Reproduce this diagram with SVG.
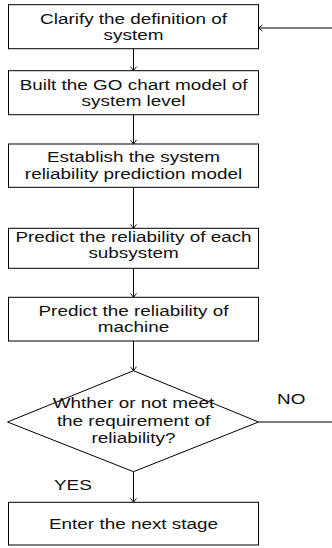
<svg xmlns="http://www.w3.org/2000/svg" width="332" height="548" viewBox="0 0 332 548">
<defs>
<style>
.box{fill:#fff;stroke:#000;stroke-width:1}
.ln{fill:none;stroke:#000;stroke-width:1}
.t{font-family:"Liberation Sans",Arial,sans-serif;font-size:15px;fill:#111;text-anchor:middle}
.lb{font-family:"Liberation Sans",Arial,sans-serif;font-size:15px;fill:#111}
</style>
<marker id="arr" viewBox="0 0 4 6" refX="4" refY="3" markerWidth="4" markerHeight="6" orient="auto" markerUnits="userSpaceOnUse" overflow="visible">
<path d="M0,0 L4,3 L0,6" fill="none" stroke="#000" stroke-width="0.9"/>
</marker>
</defs>
<rect width="332" height="548" fill="#fff"/>
<g id="connectors">
<line class="ln" x1="133.5" y1="48.7" x2="133.5" y2="70.7" marker-end="url(#arr)"/>
<line class="ln" x1="133.5" y1="114.7" x2="133.5" y2="144" marker-end="url(#arr)"/>
<line class="ln" x1="133.5" y1="187.3" x2="133.5" y2="228.3" marker-end="url(#arr)"/>
<line class="ln" x1="133.5" y1="268.3" x2="133.5" y2="297.3" marker-end="url(#arr)"/>
<line class="ln" x1="133.5" y1="341" x2="133.5" y2="370.7" marker-end="url(#arr)"/>
<line class="ln" x1="133.5" y1="471.7" x2="133.5" y2="502.3" marker-end="url(#arr)"/>
<line class="ln" x1="258.5" y1="422" x2="332" y2="422"/>
<line class="ln" x1="332" y1="28" x2="258.5" y2="28" marker-end="url(#arr)"/>
<text class="lb" transform="matrix(1.26 0 0 1 277 403.5)">NO</text>
<text class="lb" transform="matrix(1.26 0 0 1 54 489.5)">YES</text>
</g>
<g id="n1">
<rect class="box" x="8.5" y="4.7" width="250" height="44"/>
<text class="t" transform="matrix(1.26 0 0 1 133.5 24)">Clarify the definition of</text>
<text class="t" transform="matrix(1.26 0 0 1 133.5 40)">system</text>
</g>
<g id="n2">
<rect class="box" x="8.5" y="70.7" width="250" height="44"/>
<text class="t" transform="matrix(1.26 0 0 1 133.5 89.5)">Built the GO chart model of</text>
<text class="t" transform="matrix(1.26 0 0 1 133.5 106)">system level</text>
</g>
<g id="n3">
<rect class="box" x="8.5" y="144" width="250" height="43.3"/>
<text class="t" transform="matrix(1.26 0 0 1 133.5 162.3)">Establish the system</text>
<text class="t" transform="matrix(1.26 0 0 1 133.5 178.5)">reliability prediction model</text>
</g>
<g id="n4">
<rect class="box" x="8.5" y="228.3" width="250" height="40"/>
<text class="t" transform="matrix(1.26 0 0 1 133.5 241.7)">Predict the reliability of each</text>
<text class="t" transform="matrix(1.26 0 0 1 133.5 258.3)">subsystem</text>
</g>
<g id="n5">
<rect class="box" x="8.5" y="297.3" width="250" height="43.7"/>
<text class="t" transform="matrix(1.26 0 0 1 133.5 315.7)">Predict the reliability of</text>
<text class="t" transform="matrix(1.26 0 0 1 133.5 332)">machine</text>
</g>
<g id="n6">
<polygon class="box" points="133.5,370.7 258.5,422 133.5,471.7 7.5,422"/>
<text class="t" transform="matrix(1.26 0 0 1 133.5 407.5)">Whther or not meet</text>
<text class="t" transform="matrix(1.26 0 0 1 133.5 425.5)">the requirement of</text>
<text class="t" transform="matrix(1.26 0 0 1 133.5 443.3)">reliability?</text>
</g>
<g id="n7">
<rect class="box" x="8.5" y="502.3" width="250" height="42.7"/>
<text class="t" transform="matrix(1.26 0 0 1 133.5 529.3)">Enter the next stage</text>
</g>
</svg>
